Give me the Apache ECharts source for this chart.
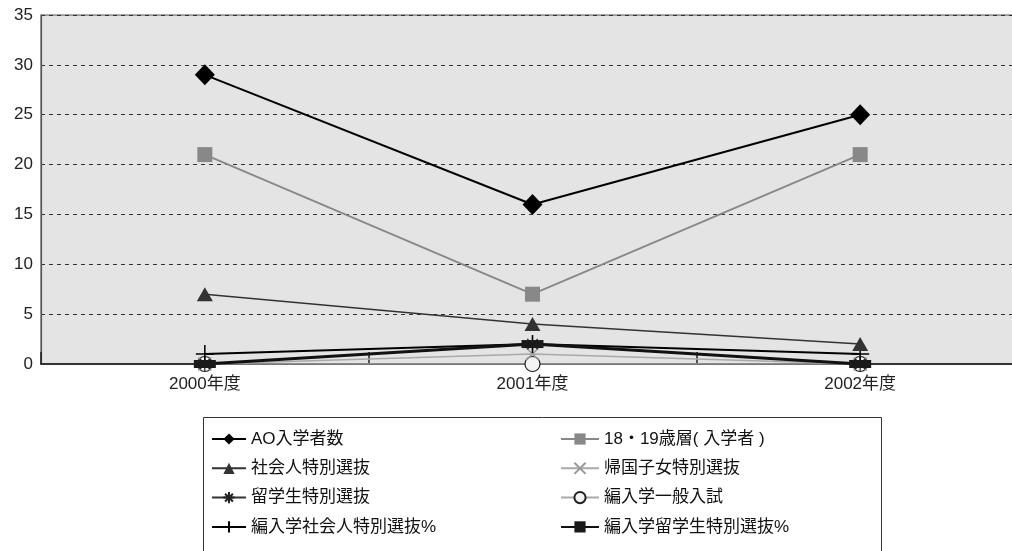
<!DOCTYPE html>
<html>
<head>
<meta charset="utf-8">
<script src="https://cdn.jsdelivr.net/npm/echarts@6/dist/echarts.min.js"></script>
<style>
  html, body { margin: 0; padding: 0; background: #fff; overflow: hidden; width: 1012px; height: 551px; }
  /* the plot area runs past the right edge of the page */
  #chart { width: 1024px; height: 551px; }
</style>
</head>
<body>
<div id="chart"></div>
<script>
// Admission counts by year and route
const years = ['2000年度', '2001年度', '2002年度'];
const yTicks = [0, 5, 10, 15, 20, 25, 30, 35];

const aoAdmissions = [29, 16, 25];
const age1819 = [21, 7, 21];
const adultSpecial = [7, 4, 2];
const returneeSpecial = [0, 1, 0];
const foreignSpecial = [0, 2, 0];
const transferGeneral = [0, 0, 0];
const transferAdultPct = [1, 2, 1];
const transferForeignPct = [0, 2, 0];

const FONT = '"Liberation Sans", Arial, "Noto Sans CJK JP", sans-serif';

const crossPath = 'path://M0,0L10,10M10,0L0,10';
const plusPath = 'path://M5,0L5,10M0,5L10,5';
const starPath = 'path://M5,0L5,10M0,5L10,5M1.5,1.5L8.5,8.5M8.5,1.5L1.5,8.5';

function lineSeries(name, data, opt) {
  return Object.assign({
    name: name,
    type: 'line',
    data: data,
    showSymbol: true,
    symbol: 'circle',
    symbolSize: 12,
    animation: false,
    emphasis: { disabled: true }
  }, opt);
}

const series = [
  lineSeries('編入学一般入試', transferGeneral, {
    symbol: 'circle', symbolSize: 15,
    lineStyle: { color: '#aaaaaa', width: 1.5 },
    itemStyle: { color: '#f4f4f4', borderColor: '#222', borderWidth: 1.2 },
    z: 2
  }),
  lineSeries('帰国子女特別選抜', returneeSpecial, {
    symbol: crossPath, symbolSize: 13,
    lineStyle: { color: '#a8a8a8', width: 1.5 },
    itemStyle: { color: 'none', borderColor: '#999999', borderWidth: 1.5 },
    z: 3
  }),
  lineSeries('留学生特別選抜', foreignSpecial, {
    symbol: starPath, symbolSize: 15,
    lineStyle: { color: '#333333', width: 1.2 },
    itemStyle: { color: 'none', borderColor: '#222', borderWidth: 1.2 },
    z: 3
  }),
  lineSeries('編入学社会人特別選抜%', transferAdultPct, {
    symbol: plusPath, symbolSize: 18,
    lineStyle: { color: '#000', width: 2 },
    itemStyle: { color: 'none', borderColor: '#000', borderWidth: 1.5 },
    z: 4
  }),
  lineSeries('編入学留学生特別選抜%', transferForeignPct, {
    symbol: 'rect', symbolSize: [22, 8],
    lineStyle: { color: '#111', width: 3 },
    itemStyle: { color: '#1a1a1a' },
    z: 5
  }),
  lineSeries('社会人特別選抜', adultSpecial, {
    symbol: 'triangle', symbolSize: [16, 14],
    lineStyle: { color: '#333333', width: 1.5 },
    itemStyle: { color: '#333333' },
    z: 6
  }),
  lineSeries('18・19歳層( 入学者 )', age1819, {
    symbol: 'rect', symbolSize: 15,
    lineStyle: { color: '#888888', width: 1.8 },
    itemStyle: { color: '#888888' },
    z: 7
  }),
  lineSeries('AO入学者数', aoAdmissions, {
    symbol: 'diamond', symbolSize: [20, 21],
    lineStyle: { color: '#000', width: 2 },
    itemStyle: { color: '#000' },
    z: 8
  })
];

const legendText = { fontSize: 17, color: '#111', fontFamily: FONT, lineHeight: 20 };

const option = {
  backgroundColor: '#fff',
  animation: false,
  textStyle: { fontFamily: FONT },
  grid: {
    left: 41, top: 15, right: 0, bottom: 187,
    show: true,
    backgroundColor: '#e4e4e4',
    borderColor: '#555',
    borderWidth: 1.2,
    containLabel: false
  },
  xAxis: {
    type: 'category',
    data: years,
    boundaryGap: true,
    axisLine: { show: true, lineStyle: { color: '#333', width: 2 } },
    axisTick: { show: true, inside: true, length: 12, interval: 0, lineStyle: { color: '#222', width: 1.5 } },
    axisLabel: { fontSize: 17, color: '#222', margin: 12, fontFamily: FONT },
    splitLine: { show: false }
  },
  yAxis: {
    type: 'value',
    min: yTicks[0],
    max: yTicks[yTicks.length - 1],
    interval: yTicks[1] - yTicks[0],
    axisLine: { show: true, lineStyle: { color: '#555', width: 1.2 } },
    axisTick: { show: false },
    axisLabel: { fontSize: 17, color: '#222', margin: 8, fontFamily: FONT },
    splitLine: { show: true, lineStyle: { color: '#333', type: [4, 4], width: 1 } }
  },
  legend: [
    {
      orient: 'vertical',
      left: 211, top: 429,
      padding: 0,
      itemWidth: 34, itemHeight: 14,
      itemGap: 9.3,
      textStyle: legendText,
      data: ['AO入学者数', '社会人特別選抜', '留学生特別選抜', '編入学社会人特別選抜%']
    },
    {
      orient: 'vertical',
      left: 560, top: 429,
      padding: 0,
      itemWidth: 38, itemHeight: 14,
      itemGap: 9.3,
      textStyle: legendText,
      data: ['18・19歳層( 入学者 )', '帰国子女特別選抜', '編入学一般入試', '編入学留学生特別選抜%']
    }
  ],
  graphic: [
    {
      type: 'rect',
      shape: { x: 203.5, y: 417.5, width: 678, height: 150 },
      style: { fill: 'none', stroke: '#333', lineWidth: 1 },
      silent: true
    }
  ],
  series: series
};

const chart = echarts.init(document.getElementById('chart'), null, { renderer: 'canvas' });
chart.setOption(option);
</script>
</body>
</html>
